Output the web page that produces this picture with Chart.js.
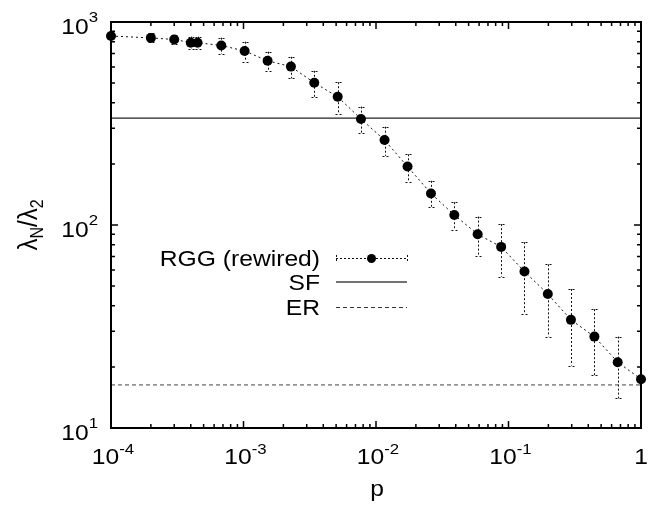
<!DOCTYPE html>
<html><head><meta charset="utf-8">
<script src="https://cdn.jsdelivr.net/npm/chart.js@4"></script>
<style>html,body{margin:0;padding:0;background:#fff}</style>
</head><body>
<canvas id="c" width="660" height="508"></canvas>
<script>
const pValues = [1e-4, 2e-4, 3e-4, 4e-4, 4.5e-4, 6.8e-4, 1.02e-3, 1.52e-3, 2.28e-3, 3.42e-3, 5.14e-3, 7.7e-3, 1.16e-2, 1.73e-2, 2.6e-2, 3.9e-2, 5.85e-2, 8.8e-2, 0.132, 0.198, 0.296, 0.445, 0.667, 1];
const ratioValues = [853, 835, 820, 791, 791, 766, 720, 644, 603, 502, 428, 333, 262, 194, 143, 112, 90, 78, 59, 45.7, 34.1, 28.2, 21.1, 17.4];
const ratioHigh = [868, 880, 863, 847, 847, 837, 800, 714, 674, 575, 505, 383, 305, 223, 165, 129.5, 110, 101, 82.3, 64, 48.4, 38.5, 28.2, 17.4];
const ratioLow = [840, 794, 776, 736, 736, 695, 637, 574, 528, 428, 352, 283, 219, 163, 123, 94.4, 70.3, 55.6, 36.5, 28.2, 20.3, 18.2, 14.0, 17.4];
const sfLevel = 336;
const erLevel = 16.3;
const xRange = [1e-4, 1];
const yRange = [10, 1000];
const xTicks = [1e-4, 1e-3, 1e-2, 1e-1, 1];
const xTickLabels = [['10', '-4'], ['10', '-3'], ['10', '-2'], ['10', '-1'], ['1', '']];
const yTicks = [10, 100, 1000];
const yTickLabels = [['10', '1'], ['10', '2'], ['10', '3']];
const seriesNames = ['RGG (rewired)', 'SF', 'ER'];
const xTitle = 'p';

const FONT = '"Liberation Sans", Arial, Helvetica, sans-serif';
const SX = 1.12;

function drawRich(ctx, parts, x, y, align, sx) {
  let widths = parts.map(p => { ctx.font = p.size + 'px ' + FONT; return ctx.measureText(p.t).width; });
  const total = widths.reduce((a, b) => a + b, 0) * sx;
  let start = align === 'center' ? x - total / 2 : align === 'right' ? x - total : x;
  ctx.save();
  ctx.translate(start, y);
  ctx.scale(sx, 1);
  ctx.textAlign = 'left';
  ctx.textBaseline = 'alphabetic';
  ctx.fillStyle = '#000';
  let cx = 0;
  parts.forEach((p, i) => {
    ctx.font = p.size + 'px ' + FONT;
    ctx.fillText(p.t, cx, p.dy || 0);
    cx += widths[i];
  });
  ctx.restore();
}

const errorBars = {
  id: 'errorBars',
  beforeDatasetsDraw(chart) {
    const ctx = chart.ctx, xs = chart.scales.x, ys = chart.scales.y;
    ctx.save();
    ctx.strokeStyle = '#111';
    ctx.lineWidth = 1;
    ctx.setLineDash([2, 2]);
    pValues.forEach((p, i) => {
      if (ratioHigh[i] === ratioLow[i]) return;
      const x = Math.round(xs.getPixelForValue(p)) + 0.5;
      const yh = ys.getPixelForValue(ratioHigh[i]);
      const yl = ys.getPixelForValue(ratioLow[i]);
      ctx.beginPath();
      ctx.moveTo(x, yh); ctx.lineTo(x, yl);
      ctx.moveTo(x - 3, Math.round(yh) + 0.5); ctx.lineTo(x + 3, Math.round(yh) + 0.5);
      ctx.moveTo(x - 3, Math.round(yl) + 0.5); ctx.lineTo(x + 3, Math.round(yl) + 0.5);
      ctx.stroke();
    });
    ctx.restore();
  }
};

const frameAndText = {
  id: 'frameAndText',
  afterDraw(chart) {
    const ctx = chart.ctx, xs = chart.scales.x, ys = chart.scales.y;
    const a = chart.chartArea;
    ctx.save();
    ctx.strokeStyle = '#000';
    ctx.lineWidth = 1.5;
    ctx.setLineDash([]);
    ctx.beginPath();
    for (let e = -4; e <= 0; e++) {
      for (let m = 1; m <= 9; m++) {
        const v = m * Math.pow(10, e);
        if (v < xRange[0] * 0.999 || v > xRange[1] * 1.001) continue;
        const x = xs.getPixelForValue(v);
        const L = m === 1 ? 7 : 4;
        ctx.moveTo(x, a.bottom); ctx.lineTo(x, a.bottom - L);
        ctx.moveTo(x, a.top); ctx.lineTo(x, a.top + L);
      }
    }
    for (let e = 1; e <= 3; e++) {
      for (let m = 1; m <= 9; m++) {
        const v = m * Math.pow(10, e);
        if (v < yRange[0] * 0.999 || v > yRange[1] * 1.001) continue;
        const y = ys.getPixelForValue(v);
        const L = m === 1 ? 7 : 4;
        ctx.moveTo(a.left, y); ctx.lineTo(a.left + L, y);
        ctx.moveTo(a.right, y); ctx.lineTo(a.right - L, y);
      }
    }
    ctx.stroke();
    ctx.lineWidth = 2;
    ctx.strokeRect(a.left, a.top, a.right - a.left, a.bottom - a.top);
    ctx.restore();

    xTicks.forEach((v, i) => {
      const x = xs.getPixelForValue(v);
      const [b, s] = xTickLabels[i];
      const parts = [{ t: b, size: 22 }];
      if (s) parts.push({ t: s, size: 15, dy: -10 });
      drawRich(ctx, parts, x + (s ? 2 : 0), a.bottom + 36, 'center', SX);
    });
    yTicks.forEach((v, i) => {
      const y = ys.getPixelForValue(v);
      const [b, s] = yTickLabels[i];
      drawRich(ctx, [{ t: b, size: 22 }, { t: s, size: 15, dy: -12 }], a.left - 13, y + 12, 'right', SX);
    });
    drawRich(ctx, [{ t: xTitle, size: 22 }], (a.left + a.right) / 2 + 1, a.bottom + 68, 'center', SX);
    ctx.save();
    ctx.translate(37, (a.top + a.bottom) / 2);
    ctx.rotate(-Math.PI / 2);
    ctx.scale(1, SX);
    drawRich(ctx, [{ t: 'λ', size: 24 }, { t: 'N', size: 16, dy: 5 }, { t: '/', size: 24 }, { t: 'λ', size: 24 }, { t: '2', size: 16, dy: 5 }], 0, 0, 'center', 1);
    ctx.restore();

    const lx0 = 336, lx1 = 407, tx = 320;
    const rows = [258, 282, 307];
    drawRich(ctx, [{ t: seriesNames[0], size: 22 }], tx, 265.5, 'right', SX);
    drawRich(ctx, [{ t: seriesNames[1], size: 22 }], tx, 290, 'right', SX);
    drawRich(ctx, [{ t: seriesNames[2], size: 22 }], tx, 315, 'right', SX);
    ctx.save();
    ctx.lineWidth = 1;
    ctx.strokeStyle = '#111';
    ctx.setLineDash([2, 2]);
    ctx.beginPath();
    ctx.moveTo(lx0, rows[0] + 0.5); ctx.lineTo(lx1, rows[0] + 0.5);
    ctx.moveTo(lx0 + 0.5, rows[0] - 3); ctx.lineTo(lx0 + 0.5, rows[0] + 4);
    ctx.moveTo(lx1 + 0.5, rows[0] - 3); ctx.lineTo(lx1 + 0.5, rows[0] + 4);
    ctx.stroke();
    ctx.setLineDash([]);
    ctx.fillStyle = '#000';
    ctx.beginPath();
    ctx.arc((lx0 + lx1) / 2, rows[0] + 0.5, 4.5, 0, Math.PI * 2);
    ctx.fill();
    ctx.strokeStyle = '#444';
    ctx.lineWidth = 1.3;
    ctx.beginPath();
    ctx.moveTo(lx0, rows[1]); ctx.lineTo(lx1, rows[1]);
    ctx.stroke();
    ctx.strokeStyle = '#333';
    ctx.lineWidth = 1;
    ctx.setLineDash([4, 3]);
    ctx.beginPath();
    ctx.moveTo(lx0, rows[2] + 0.5); ctx.lineTo(lx1, rows[2] + 0.5);
    ctx.stroke();
    ctx.restore();
  }
};

new Chart(document.getElementById('c'), {
  type: 'scatter',
  data: {
    datasets: [
      {
        label: seriesNames[0],
        data: pValues.map((p, i) => ({ x: p, y: ratioValues[i] })),
        showLine: true,
        borderColor: '#111',
        borderWidth: 1,
        borderDash: [2, 3],
        pointRadius: 5,
        pointBackgroundColor: '#000',
        pointBorderWidth: 0,
        clip: false
      },
      {
        label: seriesNames[1],
        data: [{ x: xRange[0], y: sfLevel }, { x: xRange[1], y: sfLevel }],
        showLine: true,
        borderColor: '#222',
        borderWidth: 1.2,
        pointRadius: 0
      },
      {
        label: seriesNames[2],
        data: [{ x: xRange[0], y: erLevel }, { x: xRange[1], y: erLevel }],
        showLine: true,
        borderColor: '#444',
        borderWidth: 1,
        borderDash: [4, 3],
        pointRadius: 0
      }
    ]
  },
  options: {
    responsive: false,
    animation: false,
    layout: { padding: { left: 111, right: 19, top: 22, bottom: 80 } },
    plugins: { legend: { display: false }, tooltip: { enabled: false } },
    scales: {
      x: { type: 'logarithmic', min: xRange[0], max: xRange[1], display: false },
      y: { type: 'logarithmic', min: yRange[0], max: yRange[1], display: false }
    }
  },
  plugins: [errorBars, frameAndText]
});
</script>
</body></html>
